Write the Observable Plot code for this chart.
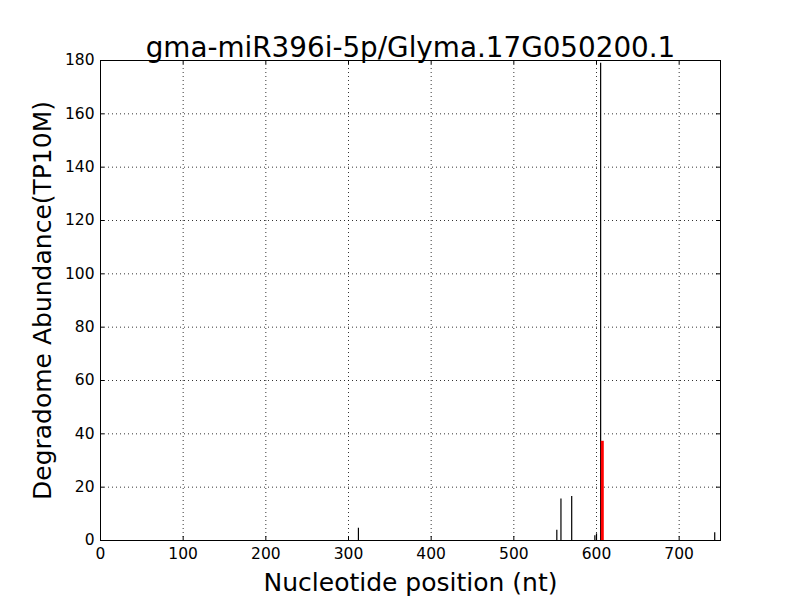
<!DOCTYPE html>
<html>
<head>
<meta charset="utf-8">
<script src="https://cdn.jsdelivr.net/npm/d3@7"></script>
<script src="https://cdn.jsdelivr.net/npm/@observablehq/plot@0.6"></script>
<style>
  html, body { margin: 0; padding: 0; background: white; }
  svg { font-family: "DejaVu Sans", sans-serif; }
</style>
</head>
<body>
<div id="chart"></div>
<script>
const titleText = "gma-miR396i-5p/Glyma.17G050200.1";
const xLabel = "Nucleotide position (nt)";
const yLabel = "Degradome Abundance(TP10M)";
const xTicks = [0, 100, 200, 300, 400, 500, 600, 700];
const yTicks = [0, 20, 40, 60, 80, 100, 120, 140, 160, 180];
const positions = [312, 552, 557, 570, 598, 600, 605, 743];
const abundance = [4.6, 3.8, 15.6, 16.5, 1.8, 2.5, 179, 2.9];
const targetPos = [607];
const targetVal = [37.2];

const bars = positions.map((p, i) => ({x: p, y: abundance[i]}));
const target = targetPos.map((p, i) => ({x: p, y: targetVal[i]}));

const chart = Plot.plot({
  width: 800,
  height: 600,
  marginLeft: 100,
  marginRight: 80,
  marginTop: 60,
  marginBottom: 60,
  x: {domain: [0, 750]},
  y: {domain: [0, 180]},
  style: {fontFamily: "DejaVu Sans, sans-serif", color: "black", background: "white"},
  marks: [
    Plot.gridX(xTicks, {stroke: "black", strokeOpacity: 1, strokeWidth: 0.8, strokeDasharray: "1,3"}),
    Plot.gridY(yTicks, {stroke: "black", strokeOpacity: 1, strokeWidth: 0.8, strokeDasharray: "1,3"}),
    Plot.ruleX(bars, {x: "x", y1: 0, y2: "y", stroke: "black", strokeWidth: 1.2}),
    Plot.ruleX(target, {x: "x", y1: 0, y2: "y", stroke: "red", strokeWidth: 3}),
    Plot.tickX(xTicks, {x: d => d, insetTop: 476, stroke: "black"}),
    Plot.tickX(xTicks, {x: d => d, insetBottom: 476, stroke: "black"}),
    Plot.tickY(yTicks, {y: d => d, insetRight: 616, stroke: "black"}),
    Plot.tickY(yTicks, {y: d => d, insetLeft: 616, stroke: "black"}),
    Plot.frame({stroke: "black", strokeWidth: 1}),
    Plot.axisX(xTicks, {tickSize: 0, tickPadding: 7, fontSize: 15.5, label: null}),
    Plot.axisY(yTicks, {tickSize: 0, tickPadding: 6, fontSize: 15.5, label: null}),
    Plot.text([titleText], {frameAnchor: "top", dy: -4, lineAnchor: "bottom", textAnchor: "middle", fontSize: 27.8}),
    Plot.text([xLabel], {frameAnchor: "bottom", dy: 42, lineAnchor: "middle", textAnchor: "middle", fontSize: 25}),
    Plot.text([yLabel], {frameAnchor: "left", dx: -58, rotate: -90, lineAnchor: "middle", textAnchor: "middle", fontSize: 25})
  ]
});
document.getElementById("chart").appendChild(chart);
</script>
</body>
</html>
